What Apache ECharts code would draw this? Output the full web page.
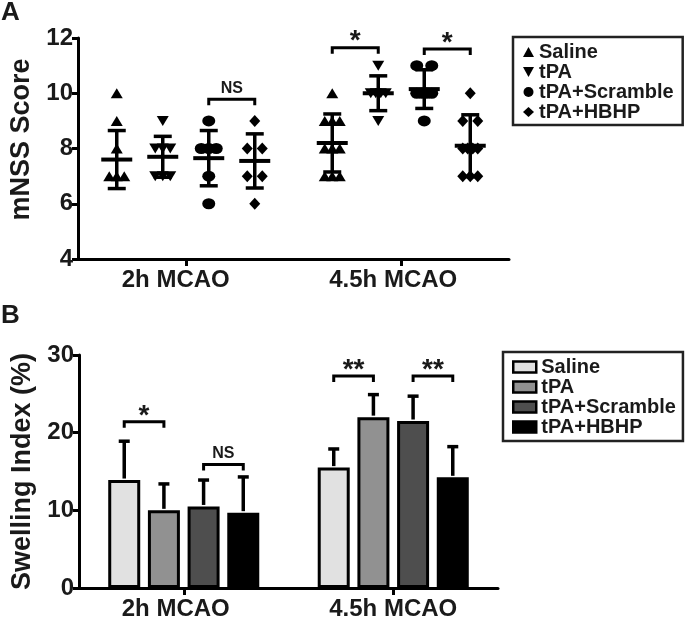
<!DOCTYPE html>
<html>
<head>
<meta charset="utf-8">
<script src="https://cdn.jsdelivr.net/npm/echarts@6/dist/echarts.min.js"></script>
<style>
  html, body { margin: 0; padding: 0; background: #fff; }
  #chart { width: 685px; height: 617px; }
</style>
</head>
<body>
<div id="chart"></div>
<script>
// ---------- data ----------
const categories = ['2h MCAO', '4.5h MCAO'];
const groupNames = ['Saline', 'tPA', 'tPA+Scramble', 'tPA+HBHP'];

// Panel A: individual mNSS scores, [2h, 4.5h]
const mnssSaline   = [[10, 9, 8, 7, 7, 7], [10, 9, 9, 9, 8, 8, 8, 7, 7, 7]];
const mnssTPA      = [[9, 8, 8, 8, 7, 7, 7], [11, 10, 10, 10, 10, 9]];
const mnssScramble = [[9, 8, 8, 8, 7, 6], [11, 11, 10, 10, 10, 10, 9]];
const mnssHBHP     = [[9, 8, 8, 7, 7, 6], [10, 9, 9, 8, 8, 8, 8, 7, 7, 7]];
// Panel A: mean and SD, [2h, 4.5h]
const mnssMeanSaline = [7.6, 8.2],  mnssSdSaline = [1.05, 1.05];
const mnssMeanTPA    = [7.7, 10.0], mnssSdTPA    = [0.74, 0.63];
const mnssMeanScr    = [7.65, 10.15], mnssSdScr  = [1.0, 0.7];
const mnssMeanHBHP   = [7.55, 8.1], mnssSdHBHP   = [0.98, 1.12];
const yTicksA = [4, 6, 8, 10, 12];

// Panel B: swelling index mean and SD, [2h, 4.5h]
const swMeanSaline = [13.9, 15.5], swSdSaline = [5.0, 2.4];
const swMeanTPA    = [10.0, 22.0], swSdTPA    = [3.4, 2.9];
const swMeanScr    = [10.5, 21.5], swSdScr    = [3.4, 3.2];
const swMeanHBHP   = [9.7, 14.25], swSdHBHP   = [4.6, 3.95];
const yTicksB = [0, 10, 20, 30];

// Significance brackets: category, from group, to group, height (data units), label
const sigCatA = [0, 1, 1], sigFromA = [2, 0, 2], sigToA = [3, 1, 3], sigYA = [9.78, 11.65, 11.6], sigLabelA = ['NS', '*', '*'];
const sigCatB = [0, 0, 1, 1], sigFromB = [0, 2, 0, 2], sigToB = [1, 3, 1, 3], sigYB = [21.4, 15.9, 27.3, 27.3], sigLabelB = ['*', 'NS', '**', '**'];

// ---------- styling / layout ----------
const FONT = '"Liberation Sans", Arial, Helvetica, sans-serif';
const INK = '#1a1a1a';
const PITCH_A = 46;          // px between group columns in panel A
const TIE_SPAN = 15;         // px spread of tied points
const BAR_W = 32, BAR_GAP = 0.24;
const PITCH_B = BAR_W * (1 + BAR_GAP);
const barColors = ['#e1e1e1', '#919191', '#4e4e4e', '#000000'];
const symbolsA = ['triangle', 'path://M0,0L2,0L1,1.8Z', 'circle', 'diamond'];
const symbolSizesA = [[12, 10], [12, 10], [13, 11], [11, 12]];
const labelShiftA = [20, 16], labelShiftB = [16, 0];   // right padding => label shifted left by half

const mnssAll = [mnssSaline, mnssTPA, mnssScramble, mnssHBHP];
const mnssMeans = [mnssMeanSaline, mnssMeanTPA, mnssMeanScr, mnssMeanHBHP];
const mnssSds = [mnssSdSaline, mnssSdTPA, mnssSdScr, mnssSdHBHP];
const swMeans = [swMeanSaline, swMeanTPA, swMeanScr, swMeanHBHP];
const swSds = [swSdSaline, swSdTPA, swSdScr, swSdHBHP];

function pointsFor(g) {
  const out = [];
  mnssAll[g].forEach((vals, cat) => {
    const counts = {};
    vals.forEach(v => counts[v] = (counts[v] || 0) + 1);
    const seen = {};
    vals.forEach(v => {
      const k = counts[v];
      const j = seen[v] = (seen[v] === undefined ? 0 : seen[v] + 1);
      const tie = k > 1 ? -TIE_SPAN / 2 + j * TIE_SPAN / (k - 1) : 0;
      out.push({ value: [cat, v], symbolOffset: [(g - 1.5) * PITCH_A + tie, 0] });
    });
  });
  return out;
}

const statsDataA = [], statsDataB = [];
for (let g = 0; g < 4; g++) for (let c = 0; c < 2; c++) {
  statsDataA.push([c, mnssMeans[g][c], mnssSds[g][c], g]);
  statsDataB.push([c, swMeans[g][c], swSds[g][c], g]);
}

function line(x1, y1, x2, y2, w) {
  return { type: 'line', shape: { x1, y1, x2, y2 }, style: { stroke: '#000', lineWidth: w, lineCap: 'butt' } };
}

function renderStatsA(params, api) {
  const cat = api.value(0), mean = api.value(1), sd = api.value(2), g = api.value(3);
  const p = api.coord([cat, mean]);
  const x = p[0] + (g - 1.5) * PITCH_A;
  const yT = api.coord([cat, mean + sd])[1], yB = api.coord([cat, mean - sd])[1];
  return { type: 'group', children: [
    line(x, yT, x, yB, 3.5),
    line(x - 9, yT, x + 9, yT, 3.5),
    line(x - 9, yB, x + 9, yB, 3.5),
    line(x - 15.5, p[1], x + 15.5, p[1], 4)
  ]};
}

function renderStatsB(params, api) {
  const cat = api.value(0), mean = api.value(1), sd = api.value(2), g = api.value(3);
  const p = api.coord([cat, mean]);
  const x = p[0] + (g - 1.5) * PITCH_B;
  const yT = api.coord([cat, mean + sd])[1];
  return { type: 'group', children: [
    line(x, yT, x, p[1] - 1.5, 3.5),
    line(x - 5.5, yT, x + 5.5, yT, 3.5)
  ]};
}

function makeBracketRenderer(cats, froms, tos, ys, labels, pitch) {
  return function (params, api) {
    const i = params.dataIndex;
    const c = api.coord([cats[i], ys[i]]);
    const x1 = c[0] + (froms[i] - 1.5) * pitch, x2 = c[0] + (tos[i] - 1.5) * pitch;
    const y = c[1], leg = 6;
    const isStar = labels[i].indexOf('*') >= 0;
    return { type: 'group', children: [
      { type: 'polyline', shape: { points: [[x1, y + leg], [x1, y], [x2, y], [x2, y + leg]] },
        style: { stroke: '#000', lineWidth: 3, fill: null, lineJoin: 'miter' } },
      { type: 'text', style: {
          text: labels[i], x: (x1 + x2) / 2, y: isStar ? y - 6 : y - 11,
          align: 'center', verticalAlign: 'middle',
          fontSize: isStar ? 28 : 16, fontWeight: 'bold', fontFamily: FONT, fill: INK } }
    ]};
  };
}

const axisLineStyle = { color: '#000', width: 3 };
const catAxis = (gridIndex, shifts) => ({
  type: 'category', gridIndex, data: categories, boundaryGap: true,
  axisLine: { show: true, lineStyle: axisLineStyle },
  axisTick: { show: true, alignWithLabel: true, interval: 0, length: 7, lineStyle: { color: '#000', width: 3 } },
  axisLabel: {
    interval: 0, hideOverlap: false,
    fontSize: 24, fontWeight: 'bold', fontFamily: FONT, color: INK, margin: 9,
    formatter: (v, i) => '{c' + i + '|' + v + '}',
    rich: {
      c0: { fontSize: 24, fontWeight: 'bold', fontFamily: FONT, color: INK, padding: [0, shifts[0], 0, 0] },
      c1: { fontSize: 24, fontWeight: 'bold', fontFamily: FONT, color: INK, padding: [0, shifts[1], 0, 0] }
    }
  },
  splitLine: { show: false }
});
const valAxis = (gridIndex, min, max, interval, name, nameGap, namePad) => ({
  type: 'value', gridIndex, min, max, interval,
  name, nameLocation: 'middle', nameGap,
  nameTextStyle: { fontSize: 27, fontWeight: 'bold', fontFamily: FONT, color: INK, padding: namePad },
  axisLine: { show: true, lineStyle: axisLineStyle },
  axisTick: { show: true, length: 6, lineStyle: { color: '#000', width: 3 } },
  axisLabel: { fontSize: 24, fontWeight: 'bold', fontFamily: FONT, color: INK, margin: 5,
               formatter: v => String(v) },
  splitLine: { show: false }
});

const series = [];
groupNames.forEach((n, g) => {
  series.push({
    name: n + '|A', type: 'scatter', xAxisIndex: 0, yAxisIndex: 0,
    symbol: symbolsA[g], symbolSize: symbolSizesA[g],
    itemStyle: { color: '#000', opacity: 1 },
    data: pointsFor(g), z: 3, silent: true
  });
});
series.push({ type: 'custom', xAxisIndex: 0, yAxisIndex: 0, renderItem: renderStatsA, data: statsDataA, z: 4, silent: true });
series.push({ type: 'custom', xAxisIndex: 0, yAxisIndex: 0,
  renderItem: makeBracketRenderer(sigCatA, sigFromA, sigToA, sigYA, sigLabelA, PITCH_A),
  data: sigYA.map((y, i) => [sigCatA[i], y]), z: 4, silent: true });

groupNames.forEach((n, g) => {
  series.push({
    name: n + '|B', type: 'bar', xAxisIndex: 1, yAxisIndex: 1,
    barWidth: BAR_W, barGap: (BAR_GAP * 100) + '%',
    itemStyle: { color: barColors[g], borderColor: '#000', borderWidth: 3 },
    data: swMeans[g], z: 2, silent: true
  });
});
series.push({ type: 'custom', xAxisIndex: 1, yAxisIndex: 1, renderItem: renderStatsB, data: statsDataB, z: 3, silent: true });
series.push({ type: 'custom', xAxisIndex: 1, yAxisIndex: 1,
  renderItem: makeBracketRenderer(sigCatB, sigFromB, sigToB, sigYB, sigLabelB, PITCH_B),
  data: sigYB.map((y, i) => [sigCatB[i], y]), z: 4, silent: true });

const legendText = { fontSize: 20, fontWeight: 'bold', fontFamily: FONT, color: INK, lineHeight: 19 };
const option = {
  animation: false,
  backgroundColor: '#fff',
  grid: [
    { left: 78, top: 38, width: 431, height: 221, containLabel: false, outerBoundsMode: 'none' },
    { left: 79, top: 355, width: 419, height: 233, containLabel: false, outerBoundsMode: 'none' }
  ],
  xAxis: [catAxis(0, labelShiftA), catAxis(1, labelShiftB)],
  yAxis: [
    valAxis(0, yTicksA[0], yTicksA[yTicksA.length - 1], yTicksA[1] - yTicksA[0], 'mNSS Score', 38, [0, 0, 0, 18]),
    valAxis(1, yTicksB[0], yTicksB[yTicksB.length - 1], yTicksB[1] - yTicksB[0], 'Swelling Index (%)', 40, 0)
  ],
  legend: [
    {
      data: groupNames.map((n, g) => ({ name: n + '|A', icon: symbolsA[g] })),
      orient: 'vertical', left: 513, top: 37, itemGap: 0, itemWidth: 11, itemHeight: 10,
      padding: [5, 9, 3, 10], borderColor: '#222', borderWidth: 2.5, selectedMode: false,
      formatter: name => name.split('|')[0], textStyle: legendText,
      itemStyle: { color: '#000' }
    },
    {
      data: groupNames.map(n => ({ name: n + '|B', icon: 'rect' })),
      orient: 'vertical', left: 503, top: 352, itemGap: 0, itemWidth: 23, itemHeight: 11,
      padding: [5, 7, 4, 9], borderColor: '#222', borderWidth: 2.5, selectedMode: false,
      formatter: name => name.split('|')[0], textStyle: legendText,
      itemStyle: { borderColor: '#000', borderWidth: 2.5 }
    }
  ],
  graphic: [
    { type: 'text', left: 1, top: 0, style: { text: 'A', fontSize: 26, fontWeight: 'bold', fontFamily: FONT, fill: INK } },
    { type: 'text', left: 1, top: 303, style: { text: 'B', fontSize: 26, fontWeight: 'bold', fontFamily: FONT, fill: INK } }
  ],
  series
};

const chart = echarts.init(document.getElementById('chart'), null, { renderer: 'canvas' });
chart.setOption(option);
</script>
</body>
</html>
